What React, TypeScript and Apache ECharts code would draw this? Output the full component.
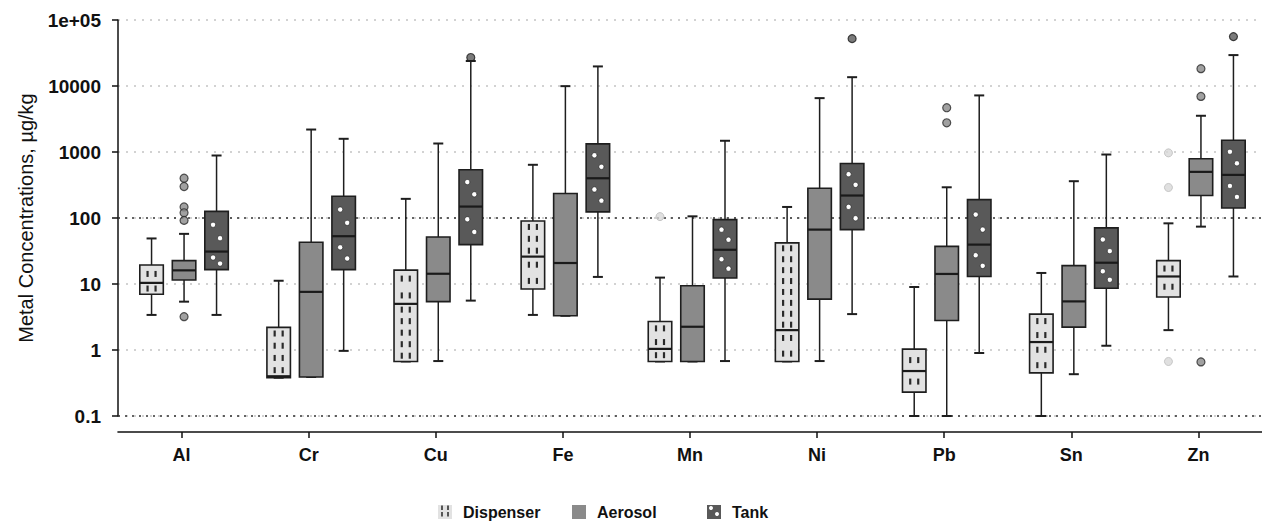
import React, { useEffect, useRef } from 'react';
import * as echarts from 'echarts';

const categories = ['Al', 'Cr', 'Cu', 'Fe', 'Mn', 'Ni', 'Pb', 'Sn', 'Zn'];
const seriesNames = ['Dispenser', 'Aerosol', 'Tank'];
const refLines = [100, 0.1];

// [lower whisker, Q1, median, Q3, upper whisker] per category
const dispenserStats = [
  [3.4, 7.0, 10.4, 19.4, 49],
  [0.38, 0.38, 0.4, 2.2, 11.2],
  [0.67, 0.67, 5.0, 16.2, 195],
  [3.4, 8.4, 26, 90, 640],
  [0.67, 0.67, 1.04, 2.7, 12.5],
  [0.67, 0.67, 2.0, 42, 147],
  [0.1, 0.23, 0.48, 1.03, 9.0],
  [0.1, 0.45, 1.32, 3.5, 14.7],
  [2.0, 6.35, 13, 22.6, 83],
];
const aerosolStats = [
  [5.4, 11.5, 16.1, 22.6, 57.5],
  [0.39, 0.39, 7.6, 43, 2190],
  [0.68, 5.4, 14.3, 51.6, 1345],
  [3.3, 3.3, 20.8, 235, 9950],
  [0.67, 0.67, 2.25, 9.4, 106],
  [0.68, 5.9, 66.7, 282, 6550],
  [0.1, 2.8, 14.2, 37.2, 292],
  [0.43, 2.22, 5.45, 19, 361],
  [74, 219, 500, 789, 3540],
];
const tankStats = [
  [3.4, 16.5, 31, 126, 885],
  [0.97, 16.5, 53, 214, 1585],
  [5.6, 39.5, 149, 537, 23900],
  [12.8, 124, 400, 1330, 19800],
  [0.68, 12.3, 33, 94.6, 1480],
  [3.5, 66.7, 219, 669, 13600],
  [0.9, 13, 39.5, 190, 7200],
  [1.16, 8.6, 21, 70.8, 916],
  [13, 142, 450, 1510, 29400],
];
const dispenserOutliers = [['Mn', 105], ['Zn', 970], ['Zn', 290], ['Zn', 0.67]];
const aerosolOutliers = [
  ['Al', 400], ['Al', 300], ['Al', 147], ['Al', 120], ['Al', 92], ['Al', 3.2],
  ['Pb', 4690], ['Pb', 2770],
  ['Zn', 18300], ['Zn', 6950], ['Zn', 0.66],
];
const tankOutliers = [['Cu', 27000], ['Ni', 52200], ['Zn', 56000]];

const FILLS = ['#e2e2e2', '#8a8a8a', '#595959'];
const OFFSETS = [-30, 2.5, 35];
const BOX_W = 23.5;
const CAP_W = 10;
const INK = '#1e1e1e';

function line(x1: number, y1: number, x2: number, y2: number, w = 1.5, color = INK) {
  return { type: 'line', shape: { x1, y1, x2, y2 }, style: { stroke: color, lineWidth: w } };
}

function makeRender(si: number) {
  return (params: any, api: any) => {
    const idx = api.value(0);
    const ys = [1, 2, 3, 4, 5].map((d) => api.coord([idx, api.value(d)])[1]);
    const cx = api.coord([idx, api.value(1)])[0] + OFFSETS[si];
    const [yLo, yQ1, yMed, yQ3, yHi] = ys;
    const hw = BOX_W / 2;
    const cw = CAP_W / 2;
    const children: any[] = [
      line(cx, yQ3, cx, yHi),
      line(cx - cw, yHi, cx + cw, yHi, 2),
      line(cx, yQ1, cx, yLo),
      line(cx - cw, yLo, cx + cw, yLo, 2),
      {
        type: 'rect',
        shape: { x: cx - hw, y: yQ3, width: BOX_W, height: yQ1 - yQ3 },
        style: { fill: FILLS[si], stroke: INK, lineWidth: 1.6 },
      },
    ];
    const halves = [
      [yQ3, yMed],
      [yMed, yQ1],
    ];
    if (si === 0) {
      halves.forEach(([t, b]) => {
        const h = b - t;
        if (h < 6) return;
        const n = Math.max(1, Math.floor((h - 4) / 10));
        for (let k = 0; k < n; k++) {
          const yc = t + ((k + 0.5) * h) / n;
          [-4, 4].forEach((dx) => {
            children.push(line(cx + dx, yc - 3, cx + dx, yc + 3, 2.2, '#2a2a2a'));
          });
        }
      });
    } else if (si === 2) {
      halves.forEach(([t, b]) => {
        const h = b - t;
        if (h < 8) return;
        children.push({
          type: 'circle',
          shape: { cx: cx - 3.5, cy: t + h / 3, r: 2.6 },
          style: { fill: '#ffffff', stroke: '#222', lineWidth: 0.6 },
        });
        children.push({
          type: 'circle',
          shape: { cx: cx + 3.5, cy: t + (2 * h) / 3, r: 2.6 },
          style: { fill: '#ffffff', stroke: '#222', lineWidth: 0.6 },
        });
      });
    }
    children.push(line(cx - hw, yMed, cx + hw, yMed, 2.2, '#1a1a1a'));
    return { type: 'group', children };
  };
}

export default function App() {
  const ref = useRef<HTMLDivElement>(null);
  useEffect(() => {
    if (!ref.current) return;
    const chart = echarts.init(ref.current, undefined, { renderer: 'svg' });
    const stats = [dispenserStats, aerosolStats, tankStats];
    const outliers = [dispenserOutliers, aerosolOutliers, tankOutliers];
    const outStyle = [
      { color: '#d8d8d8', borderColor: '#bcbcbc', borderWidth: 1 },
      { color: '#8a8a8a', borderColor: '#2a2a2a', borderWidth: 1.2 },
      { color: '#5a5a5a', borderColor: '#1a1a1a', borderWidth: 1.2 },
    ];
    const series: any[] = [];
    seriesNames.forEach((name, si) => {
      series.push({
        name,
        type: 'custom',
        renderItem: makeRender(si),
        itemStyle: { color: FILLS[si] },
        encode: { x: 0, y: [1, 2, 3, 4, 5] },
        data: stats[si].map((s, i) => [i, ...s]),
        z: 3,
        markLine:
          si === 0
            ? {
                silent: true,
                symbol: 'none',
                label: { show: false },
                lineStyle: { color: '#333', type: [2, 5], width: 1.6 },
                data: refLines.map((v) => ({ yAxis: v })),
                z: 1,
              }
            : undefined,
      });
      series.push({
        name,
        type: 'scatter',
        symbol: 'circle',
        symbolSize: 8,
        symbolOffset: [OFFSETS[si], 0],
        itemStyle: outStyle[si],
        data: outliers[si],
        z: 2,
      });
    });
    const legendBase = (name: string, si: number, left: number) => ({
      data: [{ name, itemStyle: { color: FILLS[si], borderWidth: 0 } }],
      left,
      top: 504,
      padding: 0,
      icon: 'rect',
      itemWidth: 14,
      itemHeight: 14,
      selectedMode: false,
      textStyle: { fontSize: 16, fontWeight: 'bold', color: '#111', padding: [0, 0, 0, 6] },
    });
    chart.setOption({
      animation: false,
      textStyle: { fontFamily: 'Liberation Sans, Arial, Helvetica, sans-serif' },
      grid: { left: 118, right: -3.5, top: 20, bottom: 109 },
      xAxis: {
        type: 'category',
        data: categories,
        offset: 16,
        axisLine: { show: true, lineStyle: { color: '#111', width: 1.6 } },
        axisTick: { show: true, alignWithLabel: true, length: 6, lineStyle: { color: '#111', width: 1.5 } },
        axisLabel: { margin: 14, fontSize: 18, fontWeight: 'bold', color: '#111' },
        splitLine: { show: false },
      },
      yAxis: {
        type: 'log',
        logBase: 10,
        min: 0.1,
        max: 100000,
        axisLine: { show: true, lineStyle: { color: '#111', width: 1.5 } },
        axisTick: { show: true, length: 6, lineStyle: { color: '#111', width: 1.5 } },
        axisLabel: {
          margin: 17,
          fontSize: 19,
          fontWeight: 'bold',
          color: '#111',
          formatter: (v: number) => (v >= 99999 ? '1e+05' : String(Number(v.toPrecision(6)))),
        },
        splitLine: { show: true, lineStyle: { color: '#c4c4c4', type: [2, 6], width: 1.5 } },
        name: 'Metal Concentrations, µg/kg',
        nameLocation: 'middle',
        nameGap: 82,
        nameTextStyle: { fontSize: 20, color: '#111' },
      },
      legend: [
        legendBase('Dispenser', 0, 438),
        legendBase('Aerosol', 1, 572),
        legendBase('Tank', 2, 707),
      ],
      graphic: [
        ...[442, 448].flatMap((x) => [
          { type: 'line', z: 100, shape: { x1: x, y1: 505.5, x2: x, y2: 510 }, style: { stroke: '#333', lineWidth: 1.6 } },
          { type: 'line', z: 100, shape: { x1: x, y1: 512, x2: x, y2: 516.5 }, style: { stroke: '#333', lineWidth: 1.6 } },
        ]),
        { type: 'circle', z: 100, shape: { cx: 711, cy: 508, r: 2 }, style: { fill: '#fff' } },
        { type: 'circle', z: 100, shape: { cx: 717, cy: 514, r: 2 }, style: { fill: '#fff' } },
      ],
      series,
    });
    return () => chart.dispose();
  }, []);
  return (
    <div
      ref={ref}
      style={{ position: 'fixed', left: 0, top: 0, width: 1262, height: 525, background: '#fff' }}
    />
  );
}
